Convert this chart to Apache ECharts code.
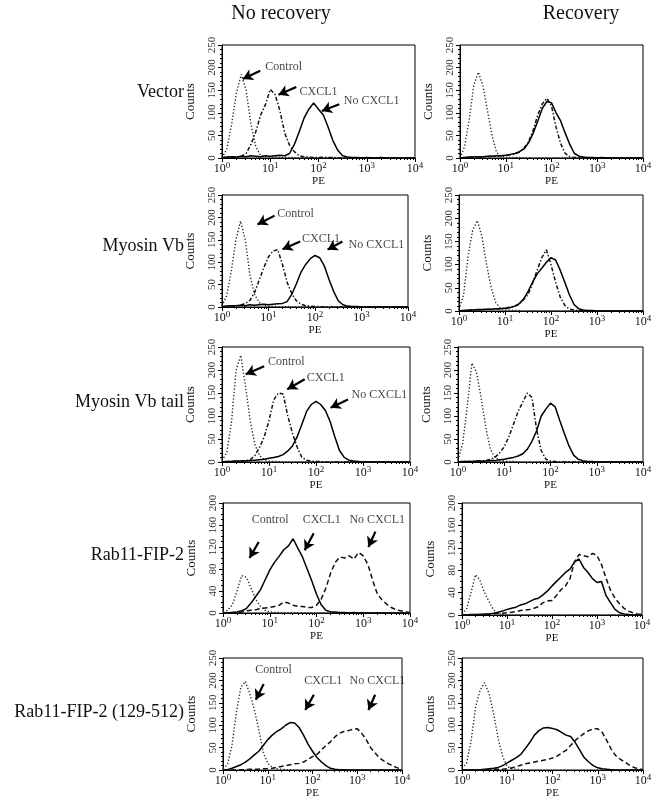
<!DOCTYPE html>
<html><head><meta charset="utf-8">
<script src="https://cdn.jsdelivr.net/npm/echarts/dist/echarts.min.js"></script>
<style>html,body{margin:0;padding:0;background:#fff}#c{width:656px;height:800px}</style>
</head><body><div id="c"></div>
<script>
// PE channel grid (log10 steps of 0.1 from 10^0 to 10^4)
const PE = [1,1.259,1.585,1.995,2.512,3.162,3.981,5.012,6.310,7.943,
  10,12.59,15.85,19.95,25.12,31.62,39.81,50.12,63.10,79.43,
  100,125.9,158.5,199.5,251.2,316.2,398.1,501.2,631.0,794.3,
  1000,1259,1585,1995,2512,3162,3981,5012,6310,7943,10000];

const columnTitles = ['No recovery', 'Recovery'];
const rowLabels = ['Vector', 'Myosin Vb', 'Myosin Vb tail', 'Rab11-FIP-2', 'Rab11-FIP-2 (129-512)'];
const xTickLabels = ['0','1','2','3','4'];

// Vector
const vecNR_control = [0,20,75,145,185,150,75,25,6,3, 2,3,1,2,1,1,0,1,0,0, 0,0,0,0,0,0,0,0,0,0, 0,0,0,0,0,0,0,0,0,0, 0];
const vecNR_cxcl1   = [0,1,1,2,4,10,30,58,95,118, 152,140,105,55,28,14,5,3,2,1, 1,2,1,1,0,1,0,0,0,0, 0,0,0,0,0,0,0,0,0,0, 0];
const vecNR_none    = [1,2,3,2,4,3,5,4,3,5, 4,5,6,5,10,30,58,88,108,122, 108,95,68,38,17,5,2,1,1,0, 1,0,0,1,0,0,0,0,0,0, 0];
const vecR_control  = [0,25,85,160,190,160,105,50,12,4, 2,1,1,1,0,1,0,0,0,0, 0,0,0,0,0,0,0,0,0,0, 0,0,0,0,0,0,0,0,0,0, 0];
const vecR_none     = [0,1,2,2,3,3,4,4,5,5, 6,8,10,14,20,34,55,82,110,125, 122,100,82,55,30,10,4,2,1,1, 0,1,0,0,0,0,0,0,0,0, 0];
const vecR_cxcl1    = [0,1,1,2,2,3,3,4,4,5, 6,7,9,13,22,36,62,95,120,132, 115,68,32,10,3,1,1,0,0,0, 0,0,0,0,0,0,0,0,0,0, 0];
// Myosin Vb
const myoNR_control = [2,25,80,150,192,150,72,28,10,4, 2,1,1,0,1,0,0,0,0,0, 0,0,0,0,0,0,0,0,0,0, 0,0,0,0,0,0,0,0,0,0, 0];
const myoNR_cxcl1   = [0,1,2,2,4,8,15,32,60,88, 112,125,128,95,55,30,14,6,3,2, 1,1,0,0,0,0,0,0,0,0, 0,0,0,0,0,0,0,0,0,0, 0];
const myoNR_none    = [1,2,3,3,4,3,5,4,5,6, 5,6,7,8,12,28,52,78,95,108, 115,110,92,62,35,14,5,2,1,1, 0,0,0,0,0,0,0,0,0,0, 0];
const myoR_control  = [3,35,120,175,195,160,100,50,18,6, 3,2,1,1,0,0,0,0,0,0, 0,0,0,0,0,0,0,0,0,0, 0,0,0,0,0,0,0,0,0,0, 0];
const myoR_none     = [0,1,2,2,3,3,4,4,5,5, 6,7,10,15,25,42,62,80,92,105, 115,110,88,62,35,14,5,2,1,1, 0,0,0,0,0,0,0,0,0,0, 0];
const myoR_cxcl1    = [0,1,1,2,2,3,3,4,4,5, 6,8,10,14,24,35,60,88,115,132, 100,62,30,12,4,2,1,0,0,0, 0,0,0,0,0,0,0,0,0,0, 0];
// Myosin Vb tail
const tailNR_control = [3,20,85,200,232,165,90,38,14,5, 2,1,1,0,0,0,0,0,0,0, 0,0,0,0,0,0,0,0,0,0, 0,0,0,0,0,0,0,0,0,0, 0];
const tailNR_cxcl1   = [0,1,1,2,2,3,5,14,32,55, 90,135,150,148,100,62,32,10,4,2, 1,1,0,0,0,0,0,0,0,0, 0,0,0,0,0,0,0,0,0,0, 0];
const tailNR_none    = [0,1,1,2,2,2,3,4,5,6, 8,10,12,16,24,35,55,82,110,125, 132,125,112,88,55,25,10,4,2,1, 0,0,0,0,0,0,0,0,0,0, 0];
const tailR_control  = [4,40,120,215,195,140,75,28,10,4, 2,1,1,0,0,0,0,0,0,0, 0,0,0,0,0,0,0,0,0,0, 0,0,0,0,0,0,0,0,0,0, 0];
const tailR_cxcl1    = [0,1,1,1,2,2,3,6,10,20, 33,55,82,110,130,150,140,70,25,6, 2,1,0,0,0,0,0,0,0,0, 0,0,0,0,0,0,0,0,0,0, 0];
const tailR_none     = [0,1,1,1,2,2,2,3,3,5, 6,8,10,13,18,28,45,68,100,115, 128,120,90,62,35,15,6,3,1,1, 0,0,0,0,0,0,0,0,0,0, 0];
// Rab11-FIP-2
const fipNR_control = [2,5,15,40,68,65,45,25,12,5, 2,1,1,0,0,0,0,0,0,0, 0,0,0,0,0,0,0,0,0,0, 0,0,0,0,0,0,0,0,0,0, 0];
const fipNR_cxcl1   = [0,0,1,2,4,8,18,30,42,60, 78,92,103,115,122,135,118,102,80,58, 34,15,5,2,2,1,1,0,1,0, 0,0,0,0,0,0,0,0,0,0, 0];
const fipNR_none    = [0,0,1,1,2,4,5,6,8,9, 10,12,14,20,18,14,12,12,10,10, 14,25,45,72,92,102,100,104,98,110, 104,88,60,35,24,16,10,6,4,2, 1];
const fipR_control  = [2,10,40,72,62,40,24,9,3,1, 0,0,0,0,0,0,0,0,0,0, 0,0,0,0,0,0,0,0,0,0, 0,0,0,0,0,0,0,0,0,0, 0];
const fipR_cxcl1    = [0,0,1,1,1,2,2,3,5,7, 10,12,14,18,20,24,28,30,36,43, 52,60,68,76,82,95,100,85,76,65, 58,60,35,22,10,4,2,1,0,0, 0];
const fipR_none     = [0,0,0,1,1,1,2,2,3,3, 4,5,6,8,9,10,12,15,22,25, 26,35,45,52,65,95,108,106,104,110, 106,90,66,44,30,20,12,7,4,2, 1];
// Rab11-FIP-2 (129-512)
const fip129NR_control = [3,12,55,130,185,198,170,135,90,40, 15,6,3,2,1,1,0,0,0,0, 0,0,0,0,0,0,0,0,0,0, 0,0,0,0,0,0,0,0,0,0, 0];
const fip129NR_cxcl1   = [0,1,4,8,12,18,25,34,42,55, 68,78,86,92,100,106,105,95,78,58, 42,28,18,10,4,2,1,1,0,0, 0,0,0,0,0,0,0,0,0,0, 0];
const fip129NR_none    = [0,0,0,1,1,1,2,2,2,3, 3,4,6,8,10,12,14,15,18,24, 30,35,45,55,63,74,82,86,88,91, 92,82,68,50,38,27,20,14,9,5, 2];
const fip129R_control  = [4,15,65,140,178,195,170,125,70,30, 8,3,2,1,0,0,0,0,0,0, 0,0,0,0,0,0,0,0,0,0, 0,0,0,0,0,0,0,0,0,0, 0];
const fip129R_cxcl1    = [0,0,1,1,1,2,3,4,6,10, 16,22,28,35,48,62,78,88,94,95, 93,90,84,78,75,62,45,28,18,10, 5,3,2,1,0,0,0,0,0,0, 0];
const fip129R_none     = [0,0,0,1,1,1,1,2,2,2, 3,5,8,11,14,16,18,20,22,24, 27,31,38,44,55,66,74,82,88,92, 92,84,66,46,32,24,18,11,6,3, 1];

// Annotations: [text, textPE, textCount, arrowFromPE, arrowFromCount, arrowToPE, arrowToCount]
const notesVec = [['Control',19,201,6.2,193,2.7,175],['CXCL1',100,146,34.7,157,14.8,140],['No CXCL1',1259,127,269,119,117,104]];
const notesMyo = [['Control',38,209,13.5,204,5.8,184],['CXCL1',135,153,47.9,146,20,129],['No CXCL1',2089,138,389,146,186,128]];
const notesTail = [['Control',23.4,217,7.9,208,3.2,191],['CXCL1',162,182,57.5,180,24.5,158],['No CXCL1',2239,147,479,136,204,118]];
const notesFip = [['Control',10.2,170,5.8,129,3.7,100],['CXCL1',129,170,87,145,56,114],['No CXCL1',1995,170,1820,148,1288,120]];
const notesFip129 = [['Control',13.5,224,8.1,192,5.4,157],['CXCL1',174,199,107,168,69,134],['No CXCL1',2818,199,2512,168,1778,134]];

const panels = [
  {box:[222,45,193,113], yMax:250, yStep:50, curves:[[vecNR_control,'ctrl'],[vecNR_cxcl1,'dashdot'],[vecNR_none,'solid']], notes:notesVec},
  {box:[460,45,183,113], yMax:250, yStep:50, curves:[[vecR_control,'ctrl'],[vecR_cxcl1,'dashdot'],[vecR_none,'solid']]},
  {box:[222,195,186,112], yMax:250, yStep:50, curves:[[myoNR_control,'ctrl'],[myoNR_cxcl1,'dashdot'],[myoNR_none,'solid']], notes:notesMyo},
  {box:[459,195,184,116], yMax:250, yStep:50, curves:[[myoR_control,'ctrl'],[myoR_cxcl1,'dashdot'],[myoR_none,'solid']]},
  {box:[222,347,188,115], yMax:250, yStep:50, curves:[[tailNR_control,'ctrl'],[tailNR_cxcl1,'dashdot'],[tailNR_none,'solid']], notes:notesTail},
  {box:[458,347,185,115], yMax:250, yStep:50, curves:[[tailR_control,'ctrl'],[tailR_cxcl1,'dashdot'],[tailR_none,'solid']]},
  {box:[223,503,187,110], yMax:200, yStep:40, curves:[[fipNR_control,'ctrl'],[fipNR_cxcl1,'solid'],[fipNR_none,'dash']], notes:notesFip},
  {box:[462,503,180,112], yMax:200, yStep:40, curves:[[fipR_control,'ctrl'],[fipR_cxcl1,'solid'],[fipR_none,'dash']]},
  {box:[223,658,179,114], yMax:250, yStep:50, curves:[[fip129NR_control,'ctrl'],[fip129NR_cxcl1,'solid'],[fip129NR_none,'dash']], notes:notesFip129},
  {box:[462,658,181,113], yMax:250, yStep:50, curves:[[fip129R_control,'ctrl'],[fip129R_cxcl1,'solid'],[fip129R_none,'dash']]}
];

const FONT = "'Liberation Serif','Times New Roman',serif";
const lineStyles = {
  ctrl:    {color:'#2a2a2a', width:1.4, type:[1.3,2]},
  dashdot: {color:'#111', width:1.5, type:[4,2,1.4,2]},
  solid:   {color:'#000', width:1.5, type:'solid'},
  dash:    {color:'#111', width:1.5, type:[5,3]}
};

const grid = [], xAxis = [], yAxis = [], series = [], graphic = [];
panels.forEach((p, i) => {
  grid.push({left:p.box[0], top:p.box[1], width:p.box[2], height:p.box[3], show:true, borderColor:'#000', borderWidth:1, containLabel:false});
  xAxis.push({
    gridIndex:i, type:'log', logBase:10, min:1, max:10000,
    name:'PE', nameLocation:'middle', nameGap:17,
    nameTextStyle:{fontFamily:FONT, fontSize:11, color:'#111'},
    axisLine:{lineStyle:{color:'#000', width:1}},
    axisTick:{show:true, length:4, lineStyle:{color:'#000'}},
    minorTick:{show:true, splitNumber:9, length:2, lineStyle:{color:'#000'}},
    splitLine:{show:false},
    axisLabel:{margin:3, color:'#111',
      formatter: v => '{b|10}{s|' + xTickLabels[Math.round(Math.log10(v))] + '}',
      rich:{b:{fontFamily:FONT, fontSize:12, color:'#111'}, s:{fontFamily:FONT, fontSize:9, color:'#111', padding:[0,0,7,0]}}}
  });
  yAxis.push({
    gridIndex:i, type:'value', min:0, max:p.yMax, interval:p.yStep,
    name:'Counts', nameLocation:'middle', nameGap:25, nameRotate:90,
    nameTextStyle:{fontFamily:FONT, fontSize:13, color:'#111'},
    axisLine:{show:true, lineStyle:{color:'#000', width:1}},
    axisTick:{show:true, length:4, lineStyle:{color:'#000'}},
    minorTick:{show:true, splitNumber:p.yStep === 40 ? 4 : 5, length:2, lineStyle:{color:'#000'}},
    splitLine:{show:false},
    axisLabel:{rotate:90, margin:4, fontFamily:FONT, fontSize:11, color:'#333'}
  });
  p.curves.forEach(([arr, st]) => {
    series.push({type:'line', xAxisIndex:i, yAxisIndex:i, showSymbol:false, symbol:'none',
      data: PE.map((x, k) => [x, arr[k]]), lineStyle: lineStyles[st], silent:true, z:2});
  });
  if (p.notes) {
    series.push({
      type:'scatter', xAxisIndex:i, yAxisIndex:i, symbolSize:0, silent:true, z:5,
      data: p.notes.map(n => [n[1], n[2], n[0]]),
      label:{show:true, position:'inside', formatter: q => q.value[2], fontFamily:FONT, fontSize:12, color:'#111'},
      markLine:{silent:true, symbol:['none','arrow'], symbolSize:[9,10], animation:false,
        lineStyle:{color:'#000', width:2.2, type:'solid'}, label:{show:false},
        data: p.notes.map(n => [{coord:[n[3], n[4]]}, {coord:[n[5], n[6]]}])}
    });
  }
});

graphic.push({type:'text', x:281, y:14, style:{text:columnTitles[0], font:"20px 'Liberation Serif', serif", fill:'#111', textAlign:'center', textVerticalAlign:'middle'}});
graphic.push({type:'text', x:581, y:14, style:{text:columnTitles[1], font:"20px 'Liberation Serif', serif", fill:'#111', textAlign:'center', textVerticalAlign:'middle'}});
const rowY = [92, 246, 402, 555, 712];
rowLabels.forEach((t, r) => {
  graphic.push({type:'text', x:184, y:rowY[r], style:{text:t, font:"18px 'Liberation Serif', serif", fill:'#111', textAlign:'right', textVerticalAlign:'middle'}});
});

const chart = echarts.init(document.getElementById('c'), null, {renderer:'canvas'});
chart.setOption({backgroundColor:'#fff', animation:false, grid, xAxis, yAxis, series, graphic});
</script></body></html>
